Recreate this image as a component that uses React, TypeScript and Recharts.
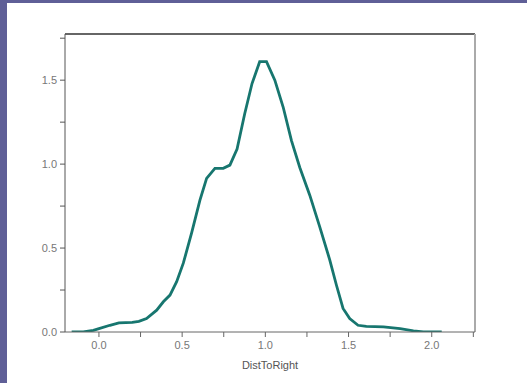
import { LineChart, Line, XAxis, YAxis, ReferenceLine } from 'recharts';

const distToRight = [
  -0.164, -0.094, -0.034, 0.0, 0.066, 0.12, 0.2, 0.24, 0.286, 0.347, 0.387, 0.427,
  0.467, 0.507, 0.557, 0.607, 0.647, 0.697, 0.747, 0.787, 0.83, 0.876, 0.92, 0.966,
  1.007, 1.057, 1.107, 1.157, 1.207, 1.267, 1.327, 1.387, 1.427, 1.467, 1.507, 1.557,
  1.607, 1.71, 1.81, 1.89, 1.95, 2.06,
];
const density = [
  0, 0, 0.01, 0.02, 0.04, 0.054, 0.057, 0.063, 0.08, 0.13, 0.18, 0.22,
  0.3, 0.41, 0.59, 0.785, 0.915, 0.975, 0.975, 0.994, 1.09, 1.3, 1.48, 1.61,
  1.61, 1.5, 1.34, 1.14, 0.98, 0.815, 0.626, 0.43, 0.28, 0.14, 0.08, 0.04,
  0.033, 0.03, 0.02, 0.007, 0, 0,
];
const xTicks = [0, 0.25, 0.5, 0.75, 1, 1.25, 1.5, 1.75, 2, 2.25];
const yTicks = [0, 0.25, 0.5, 0.75, 1, 1.25, 1.5, 1.75];
const xMajor = [0, 0.5, 1, 1.5, 2];
const yMajor = [0, 0.5, 1, 1.5];

const data = distToRight.map((x, i) => ({ x, y: density[i] }));

const X_MIN = -0.204;
const X_MAX = 2.26;
const Y_MAX = 1.775;

const font = '"Liberation Sans", Arial, sans-serif';

function XTick(props: any) {
  const { x, y, payload } = props;
  if (!xMajor.includes(payload.value)) return null;
  return (
    <text x={x} y={y} dy={10} textAnchor="middle" fill="#777" fontSize={11} fontFamily={font}>
      {payload.value.toFixed(1)}
    </text>
  );
}

function YTick(props: any) {
  const { x, y, payload } = props;
  if (!yMajor.includes(payload.value)) return null;
  return (
    <text x={x} y={y} dy={4} textAnchor="end" fill="#777" fontSize={11} fontFamily={font}>
      {payload.value.toFixed(1)}
    </text>
  );
}

export default function App() {
  return (
    <div style={{ position: 'absolute', left: 0, top: 0, width: 527, height: 383, background: '#5f5f97' }}>
      <div style={{ position: 'absolute', left: 7, top: 3, right: 0, bottom: 0, background: '#fff' }} />
      <div style={{ position: 'absolute', left: 0, top: 0 }}>
        <LineChart width={527} height={383} data={data} margin={{ top: 34, right: 52, left: 0, bottom: 21 }}>
          <XAxis
            dataKey="x"
            type="number"
            domain={[X_MIN, X_MAX]}
            ticks={xTicks}
            allowDataOverflow
            stroke="#666"
            tickSize={5}
            tickMargin={2}
            tick={<XTick />}
            height={30}
            label={{ value: 'DistToRight', position: 'insideBottom', offset: -7, fill: '#555', fontSize: 11, fontFamily: font }}
          />
          <YAxis
            type="number"
            domain={[0, Y_MAX]}
            ticks={yTicks}
            allowDataOverflow
            stroke="#555"
            tickSize={5}
            tickMargin={3}
            tick={<YTick />}
            width={65}
          />
          <ReferenceLine y={Y_MAX} stroke="#333" strokeWidth={1.5} />
          <ReferenceLine x={X_MAX} stroke="#aaa" strokeWidth={2} />
          <Line
            type="linear"
            dataKey="y"
            stroke="#17766f"
            strokeWidth={2.8}
            dot={false}
            isAnimationActive={false}
          />
        </LineChart>
      </div>
    </div>
  );
}
